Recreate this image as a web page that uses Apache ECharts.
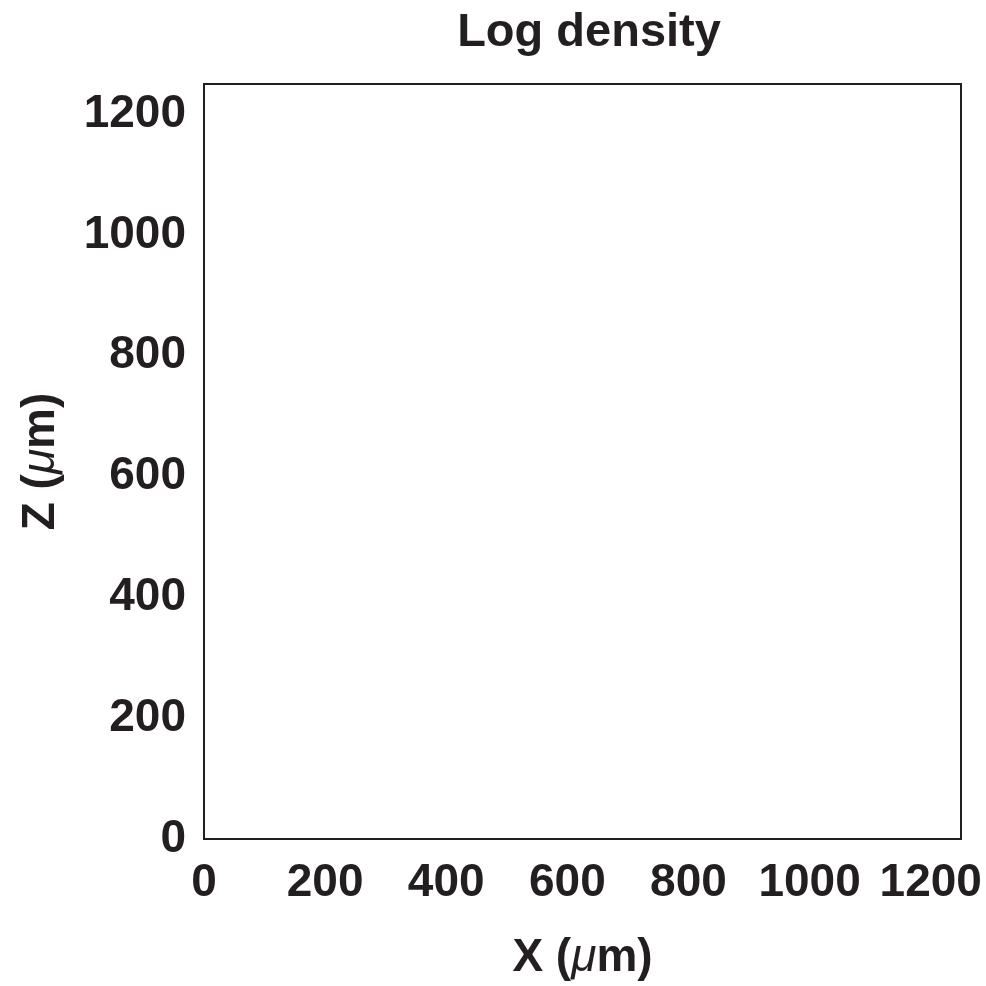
<!DOCTYPE html>
<html>
<head>
<meta charset="utf-8">
<script src="https://cdn.jsdelivr.net/npm/echarts@6/dist/echarts.min.js"></script>
<style>html,body{margin:0;padding:0;background:#fff;}#c{width:986px;height:986px;}</style>
</head>
<body>
<div id="c"></div>
<script>
var titleText = 'Log density';
var xName = 'X ({mu|μ}m)';
var yName = 'Z ({mu|μ}m)';
var xTicks = [0, 200, 400, 600, 800, 1000, 1200];
var yTicks = [0, 200, 400, 600, 800, 1000, 1200];
var xRange = [0, 1250];
var yRange = [0, 1250];
var densityData = [];

var FONT = 'Liberation Sans, Arial, Helvetica, sans-serif';
var INK = '#231f20';
var FS = 46;

var chart = echarts.init(document.getElementById('c'), null, {renderer: 'canvas'});
function tickFmt(list) {
  return function (v) { return list.indexOf(v) >= 0 ? String(v) : ''; };
}
var richMu = {mu: {fontStyle: 'italic', fontWeight: 'normal', fontSize: FS, fontFamily: FONT, color: INK}};
chart.setOption({
  animation: false,
  backgroundColor: '#fff',
  title: {
    text: titleText, left: 584, top: 5, textAlign: 'center',
    textStyle: {fontFamily: FONT, fontWeight: 'bold', fontSize: 47, color: INK}
  },
  grid: {left: 204, right: 25, top: 84, bottom: 145, show: true, borderColor: INK, borderWidth: 2, backgroundColor: 'transparent'},
  xAxis: {
    type: 'value', min: xRange[0], max: xRange[1], interval: 200,
    name: xName, nameLocation: 'middle', nameGap: 96,
    nameTextStyle: {fontFamily: FONT, fontWeight: 'bold', fontSize: FS, color: INK, rich: richMu},
    axisLine: {show: false}, axisTick: {show: false}, splitLine: {show: false},
    axisLabel: {formatter: tickFmt(xTicks), margin: 21, fontFamily: FONT, fontWeight: 'bold', fontSize: FS, color: INK, showMaxLabel: false}
  },
  yAxis: {
    type: 'value', min: yRange[0], max: yRange[1], interval: 200,
    name: yName, nameLocation: 'middle', nameGap: 140,
    nameTextStyle: {fontFamily: FONT, fontWeight: 'bold', fontSize: FS, color: INK, rich: richMu},
    axisLine: {show: false}, axisTick: {show: false}, splitLine: {show: false},
    axisLabel: {formatter: tickFmt(yTicks), margin: 18, fontFamily: FONT, fontWeight: 'bold', fontSize: FS, color: INK, showMaxLabel: false}
  },
  series: [{type: 'scatter', data: densityData, symbolSize: 4}]
});
</script>
</body>
</html>
